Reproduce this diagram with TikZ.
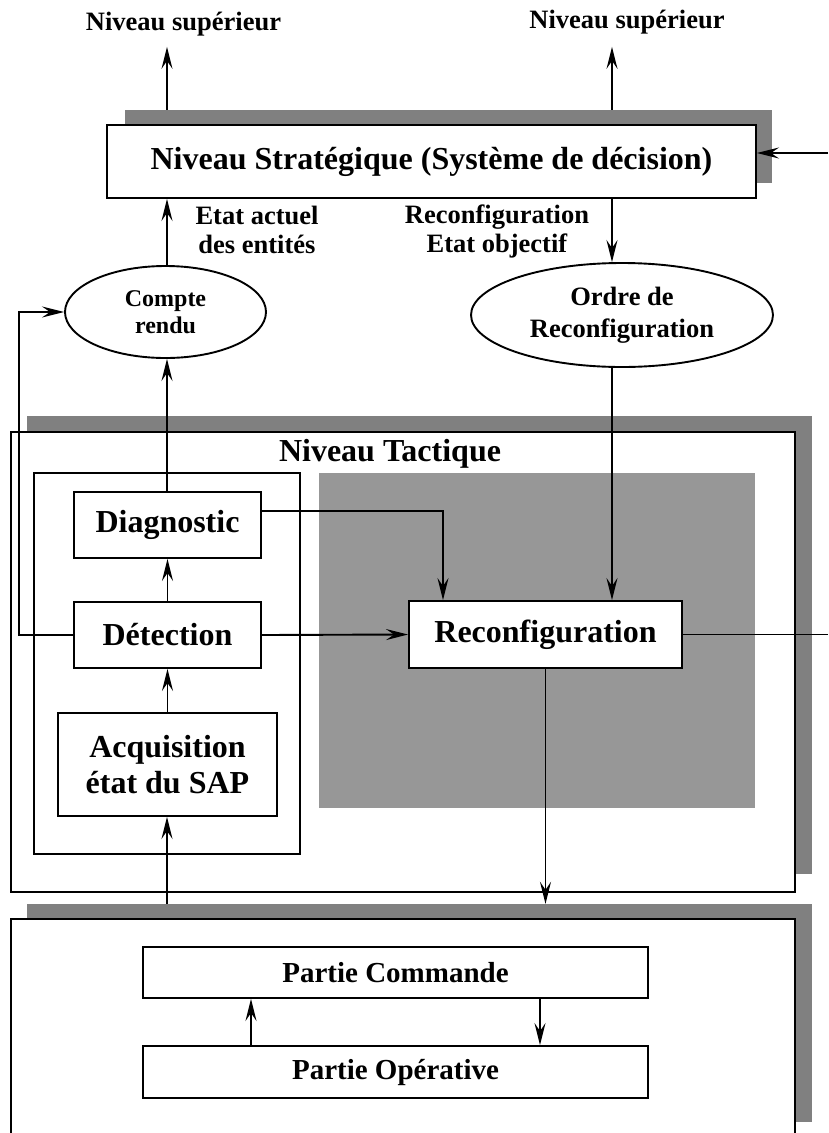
\documentclass[tikz,border=0pt]{standalone}
\usepackage{fontspec}
\setmainfont{Liberation Serif}
\usetikzlibrary{arrows.meta,shapes.geometric,calc}
\definecolor{shadowgray}{HTML}{808080}
\definecolor{panelgray}{HTML}{979797}
\newcommand{\fbig}{\fontsize{32}{36}\selectfont\bfseries}
\newcommand{\fpart}{\fontsize{29}{33}\selectfont\bfseries}
\newcommand{\flab}{\fontsize{26.5}{29}\selectfont\bfseries}
\newcommand{\fordre}{\fontsize{26.5}{32}\selectfont\bfseries}
\newcommand{\fcr}{\fontsize{24}{27}\selectfont\bfseries}
\begin{document}
\begin{tikzpicture}[x=1pt,y=-1pt,
  ln/.style={line width=1.9pt},
  arr/.style={ln,-{Stealth[length=22pt,width=11pt,inset=8pt]}},
  box/.style={draw,ln,fill=white,inner sep=0pt,align=center},
  shad/.style={fill=shadowgray,inner sep=0pt},
  ell/.style={draw,ln,ellipse,fill=white,inner sep=0pt,align=center},
  txt/.style={inner sep=0pt,align=center}]
\useasboundingbox (0,0) rectangle (828,1133);
\clip (0,0) rectangle (828,1133);

% column coordinates
\coordinate (cx) at (167,0);
\coordinate (ox) at (612,0);
\coordinate (dx) at (443,0);
\coordinate (lx) at (19,0);
\coordinate (rt) at (828,153);
\coordinate (px1) at (251,0);
\coordinate (px2) at (540,0);

% strategic level
\node[shad,minimum width=647pt,minimum height=73pt] (ssh) at (448.5,146.5) {};
\node[box,font=\fbig,minimum width=649pt,minimum height=73pt] (strat) at (431.5,161.5) {Niveau Stratégique (Système de décision)};
\node[txt,font=\flab,anchor=base] (sup1) at (183.5,30) {Niveau supérieur};
\node[txt,font=\flab,anchor=base] (sup2) at (627,28) {Niveau supérieur};
\node[txt,font=\flab] (etat) at (257,230) {Etat actuel\\des entités};
\node[txt,font=\flab] (reco) at (497,231) {Reconfiguration\\Etat objectif};
\node[ell,font=\fcr,minimum width=201pt,minimum height=92pt] (cr) at (165.5,312) {Compte\\rendu};
\node[ell,font=\fordre,minimum width=302pt,minimum height=104pt] (ordre) at (622,315) {Ordre de\\Reconfiguration};

% tactical level
\node[shad,minimum width=785pt,minimum height=458pt] (tsh) at (419.5,645) {};
\node[box,minimum width=784pt,minimum height=460pt] (tac) at (403,662) {};
\node[txt,font=\fbig,anchor=base] (tactlab) at (390,461) {Niveau Tactique};
\node[box,minimum width=266pt,minimum height=381pt] (inner) at (167,663.5) {};
\node[fill=panelgray,inner sep=0pt,minimum width=436pt,minimum height=335pt] (gray) at (537,640.5) {};
\node[box,font=\fbig,minimum width=187pt,minimum height=66pt] (diag) at (167.5,525) {Diagnostic};
\node[box,font=\fbig,minimum width=187pt,minimum height=66pt] (det) at (167.5,635) {Détection};
\node[box,font=\fbig,minimum width=219pt,minimum height=103pt] (acq) at (167.5,764.5) {Acquisition\\état du SAP};
\node[box,font=\fbig,minimum width=273pt,minimum height=67pt] (recon) at (545.5,634.5) {Reconfiguration};

% operational level
\node[shad,minimum width=785pt,minimum height=218pt] (lsh) at (419.5,1013) {};
\node[box,minimum width=784pt,minimum height=240pt] (low) at (403,1039) {};
\node[box,font=\fpart,minimum width=505pt,minimum height=51pt] (cmd) at (395.5,972.5) {Partie Commande};
\node[box,font=\fpart,minimum width=505pt,minimum height=52pt] (op) at (395.5,1072) {Partie Opérative};

% connectors
\draw[arr,shorten >=11pt] (cx |- ssh.north) -- (cx |- sup1.south);
\draw[arr,shorten >=13pt] (ox |- ssh.north) -- (ox |- sup2.south);
\draw[arr] (rt) -- (strat.east |- rt);
\draw[arr] (cx |- cr.north) -- (cx |- strat.south);
\draw[arr] (ox |- strat.south) -- (ox |- ordre.north);
\draw[arr] (cx |- diag.north) -- (cx |- cr.south);
\draw[arr] (ox |- ordre.south) -- (ox |- recon.north);
\draw[arr] (det.west) -| (lx |- cr.west) -- (cr.west);
\draw[arr] ($(diag.east)+(0,-14)$) -| (dx |- recon.north);
\draw[arr] (det.east) -- (recon.west);
\draw[ln] (recon.east) -- (recon.east -| rt);
\draw[arr] (recon.south) -- (recon.south |- lsh.north);
\draw[arr] (det.north) -- (diag.south);
\draw[arr] (acq.north) -- (det.south);
\draw[arr] (cx |- lsh.north) -- (cx |- acq.south);
\draw[arr] (px1 |- op.north) -- (px1 |- cmd.south);
\draw[arr] (px2 |- cmd.south) -- (px2 |- op.north);
\end{tikzpicture}
\end{document}
